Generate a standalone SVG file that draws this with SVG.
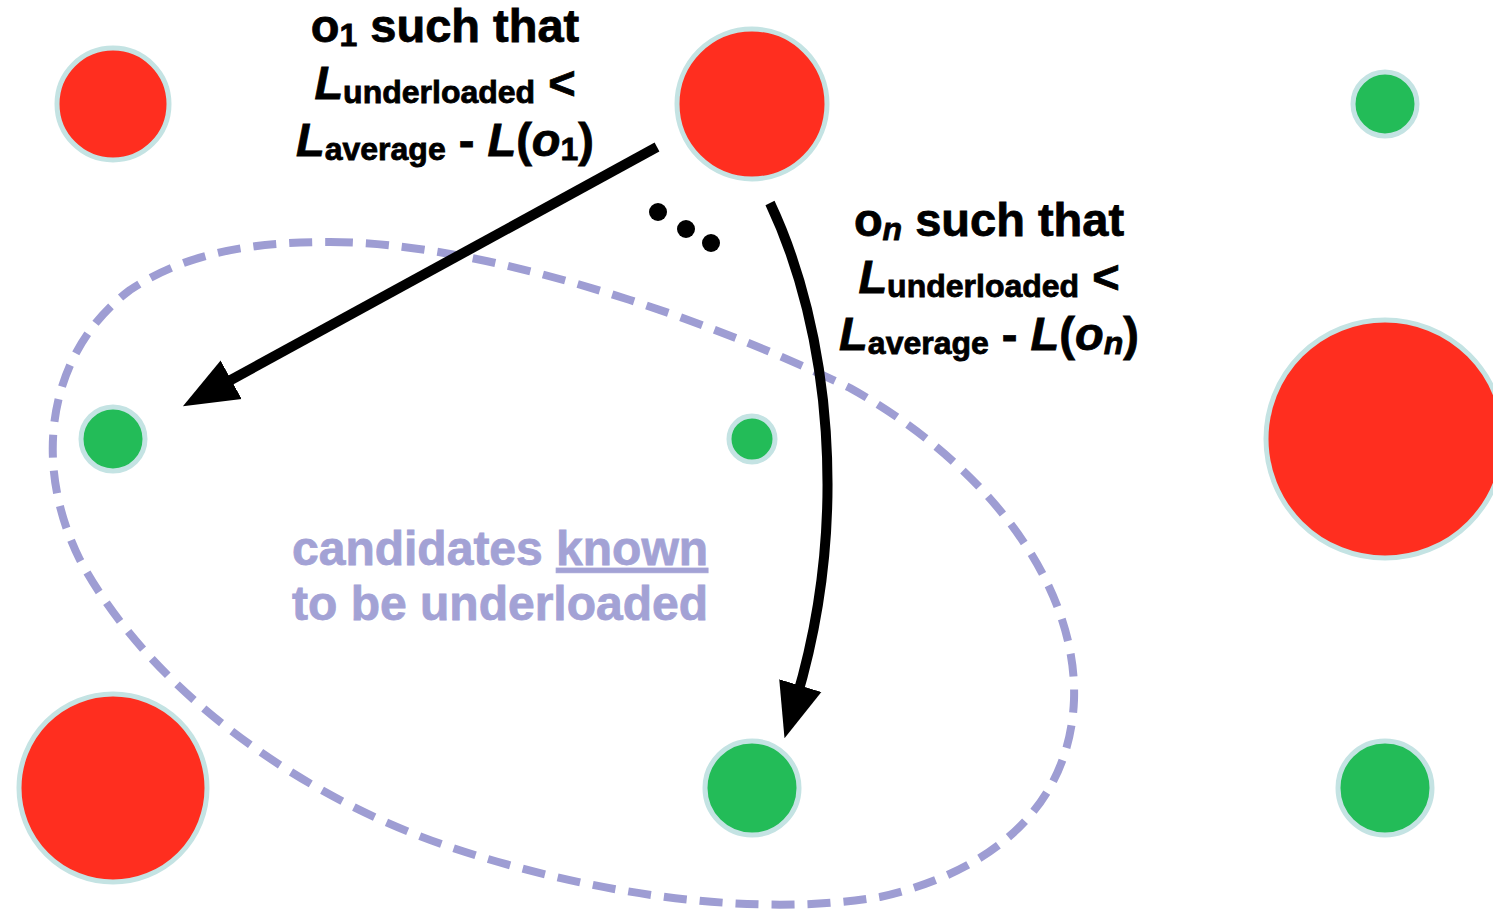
<svg xmlns="http://www.w3.org/2000/svg" width="1493" height="909" viewBox="0 0 1493 909">
  <style>
    .red { fill: #FF2E1F; stroke: #C4E3E3; stroke-width: 5; }
    .green { fill: #23BC58; stroke: #C4E3E3; stroke-width: 5; }
    .lbl { font-family: "Liberation Sans", Arial, sans-serif; font-weight: bold; fill: #000; stroke: #000; stroke-width: 0.8; text-anchor: middle; }
    .big { font-size: 47px; }
    .sub { font-size: 32px; }
    .it { font-style: italic; }
    .note { font-family: "Liberation Sans", Arial, sans-serif; font-weight: bold; font-size: 48px; fill: #A3A2D5; stroke: #A3A2D5; stroke-width: 0.8; }
    .arrow { fill: none; stroke: #000; stroke-width: 10; }
  </style>
  <defs>
    <marker id="head" markerUnits="userSpaceOnUse" markerWidth="60" markerHeight="50" viewBox="0 -25 60 50" refX="15" refY="0" orient="auto">
      <path d="M0,-22 L55,0 L0,22 Z" fill="#000"/>
    </marker>
  </defs>

  <rect width="1493" height="909" fill="#fff"/>

  <!-- region of candidates known to be underloaded -->
  <g id="candidates-region">
    <path d="M 330 242 C 480 242, 700 315, 850 388 C 980 460, 1078 580, 1074 700 C 1070 800, 1000 870, 880 897 C 760 917, 600 897, 450 847 C 300 797, 150 690, 80 560 C 30 460, 50 350, 130 290 C 190 250, 260 242, 330 242 Z" fill="none" stroke="#9E9DD3" stroke-width="8" stroke-dasharray="23 13"/>
    <text class="note" x="292" y="565">candidates <tspan text-decoration="underline">known</tspan></text>
    <text class="note" x="292" y="620">to be underloaded</text>
  </g>

  <!-- servers: red = overloaded, green = underloaded -->
  <g id="node-r1"><circle class="red" cx="113" cy="104" r="56"/></g>
  <g id="node-r2"><circle class="red" cx="752" cy="104" r="75"/></g>
  <g id="node-g1"><circle class="green" cx="1385" cy="104" r="32"/></g>
  <g id="node-g2"><circle class="green" cx="113" cy="439" r="32"/></g>
  <g id="node-g3"><circle class="green" cx="752" cy="439" r="23"/></g>
  <g id="node-r3"><circle class="red" cx="1385" cy="439" r="119"/></g>
  <g id="node-r4"><circle class="red" cx="113" cy="788" r="94"/></g>
  <g id="node-g4"><circle class="green" cx="752" cy="788" r="47"/></g>
  <g id="node-g5"><circle class="green" cx="1385" cy="788" r="47"/></g>

  <!-- migrations -->
  <g id="connectors">
    <path class="arrow" d="M 657 147 L 218 387" marker-end="url(#head)"/>
    <path class="arrow" d="M 770 203 C 830 330, 850 520, 796 700" marker-end="url(#head)"/>
    <circle cx="658" cy="212" r="9" fill="#000"/>
    <circle cx="686" cy="229" r="9" fill="#000"/>
    <circle cx="711" cy="243" r="9" fill="#000"/>
  </g>

  <!-- labels for the first and n-th migration -->
  <g id="label-o1">
    <text class="lbl big" x="445" y="42">o<tspan class="sub" dy="4">1</tspan><tspan dy="-4"> such that</tspan></text>
    <text class="lbl big" x="445" y="99"><tspan class="it">L</tspan><tspan class="sub" dy="4">underloaded</tspan><tspan dy="-4"> &lt;</tspan></text>
    <text class="lbl big" x="445" y="156"><tspan class="it">L</tspan><tspan class="sub" dy="4">average</tspan><tspan dy="-4"> - </tspan><tspan class="it">L</tspan>(<tspan class="it">o</tspan><tspan class="sub" dy="4">1</tspan><tspan dy="-4">)</tspan></text>
  </g>
  <g id="label-on">
    <text class="lbl big" x="989" y="236">o<tspan class="sub it" dy="4">n</tspan><tspan dy="-4"> such that</tspan></text>
    <text class="lbl big" x="989" y="293"><tspan class="it">L</tspan><tspan class="sub" dy="4">underloaded</tspan><tspan dy="-4"> &lt;</tspan></text>
    <text class="lbl big" x="989" y="350"><tspan class="it">L</tspan><tspan class="sub" dy="4">average</tspan><tspan dy="-4"> - </tspan><tspan class="it">L</tspan>(<tspan class="it">o</tspan><tspan class="sub it" dy="4">n</tspan><tspan dy="-4">)</tspan></text>
  </g>
</svg>
